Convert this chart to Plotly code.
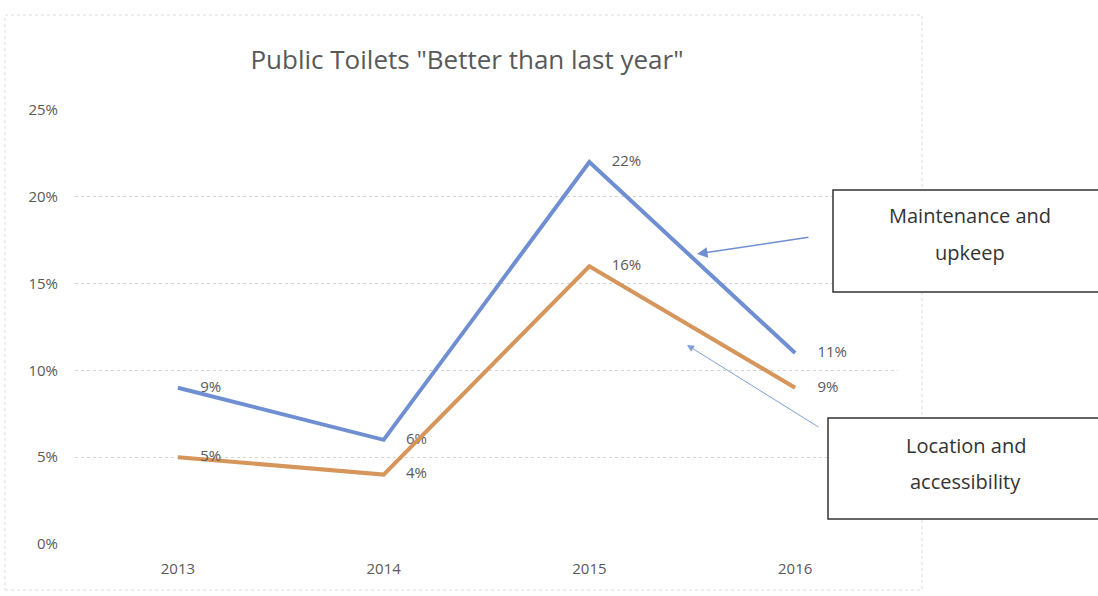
import plotly.graph_objects as go

years = ["2013", "2014", "2015", "2016"]
maintenance = [9, 6, 22, 11]
location = [5, 4, 16, 9]
y_ticks = [0, 5, 10, 15, 20, 25]
y_tick_labels = ["0%", "5%", "10%", "15%", "20%", "25%"]

FONT = "Open Sans, sans-serif"
GRAY = "#595959"
BLUE = "#6f8fd2"
ORANGE = "#d6955a"

L, R, T, B = 75, 200, 110, 52
W, H = 1098, 596
PW, PH = W - L - R, H - T - B

def px_x(px):
    return (px - L) / PW

def px_y(py):
    return 1 - (py - T) / PH

fig = go.Figure()
for vals, name, col in [(maintenance, "Maintenance and upkeep", BLUE),
                        (location, "Location and accessibility", ORANGE)]:
    fig.add_trace(go.Scatter(
        x=years, y=vals, mode="lines+markers+text", name=name,
        line=dict(color=col, width=4),
        marker=dict(size=34, opacity=0, color=col),
        text=[f"{v}%" for v in vals], textposition="middle right",
        textfont=dict(family=FONT, size=15, color=GRAY), cliponaxis=False))

fig.update_layout(
    width=W, height=H,
    margin=dict(l=L, r=R, t=T, b=B),
    paper_bgcolor="white", plot_bgcolor="white",
    showlegend=False,
    title=dict(text='Public Toilets "Better than last year"', x=467/W, xanchor="center",
               y=1-60/H, yanchor="middle",
               font=dict(family=FONT, size=26, color=GRAY)),
    font=dict(family=FONT, color=GRAY),
)
fig.update_xaxes(type="category", range=[-0.5, 3.5], showgrid=False, zeroline=False,
                 showline=False, tickfont=dict(family=FONT, size=15, color=GRAY), ticks="",
                 ticklabelstandoff=14)
fig.update_yaxes(range=[0, 25], tickvals=y_ticks, ticktext=y_tick_labels, showgrid=True,
                 gridcolor="#d4d4d4", griddash="dot", gridwidth=1, zeroline=False,
                 showline=False, tickfont=dict(family=FONT, size=15, color=GRAY),
                 ticklabelstandoff=16)

# outer chart border
fig.add_shape(type="rect", xref="paper", yref="paper",
              x0=px_x(5), x1=px_x(922), y0=px_y(590), y1=px_y(15),
              line=dict(color="#dcdcdc", width=1, dash="dot"))

# boxes
fig.add_shape(type="rect", xref="paper", yref="paper",
              x0=px_x(833), x1=px_x(1102), y0=px_y(292), y1=px_y(190),
              line=dict(color="#333333", width=1.5), fillcolor="white")
fig.add_shape(type="rect", xref="paper", yref="paper",
              x0=px_x(828), x1=px_x(1102), y0=px_y(519), y1=px_y(418),
              line=dict(color="#333333", width=1.5), fillcolor="white")

for txt, cx, cy in [("Maintenance and", 970, 216), ("upkeep", 970, 252),
                    ("Location and", 966, 445), ("accessibility", 966, 481)]:
    fig.add_annotation(xref="paper", yref="paper", x=px_x(cx), y=px_y(cy),
                       xanchor="center", yanchor="middle", text=txt, showarrow=False,
                       font=dict(family=FONT, size=20, color="#333333"))

# arrows
fig.add_annotation(xref="paper", yref="paper", x=px_x(697), y=px_y(254), ax=113, ay=-17,
                   text="", showarrow=True, arrowhead=2, arrowsize=1.4, arrowwidth=1.5,
                   arrowcolor=BLUE)
fig.add_annotation(xref="paper", yref="paper", x=px_x(687), y=px_y(345), ax=133, ay=83,
                   text="", showarrow=True, arrowhead=2, arrowsize=1.4, arrowwidth=1,
                   arrowcolor="#7f9fd8")

fig.write_html("out.html")
